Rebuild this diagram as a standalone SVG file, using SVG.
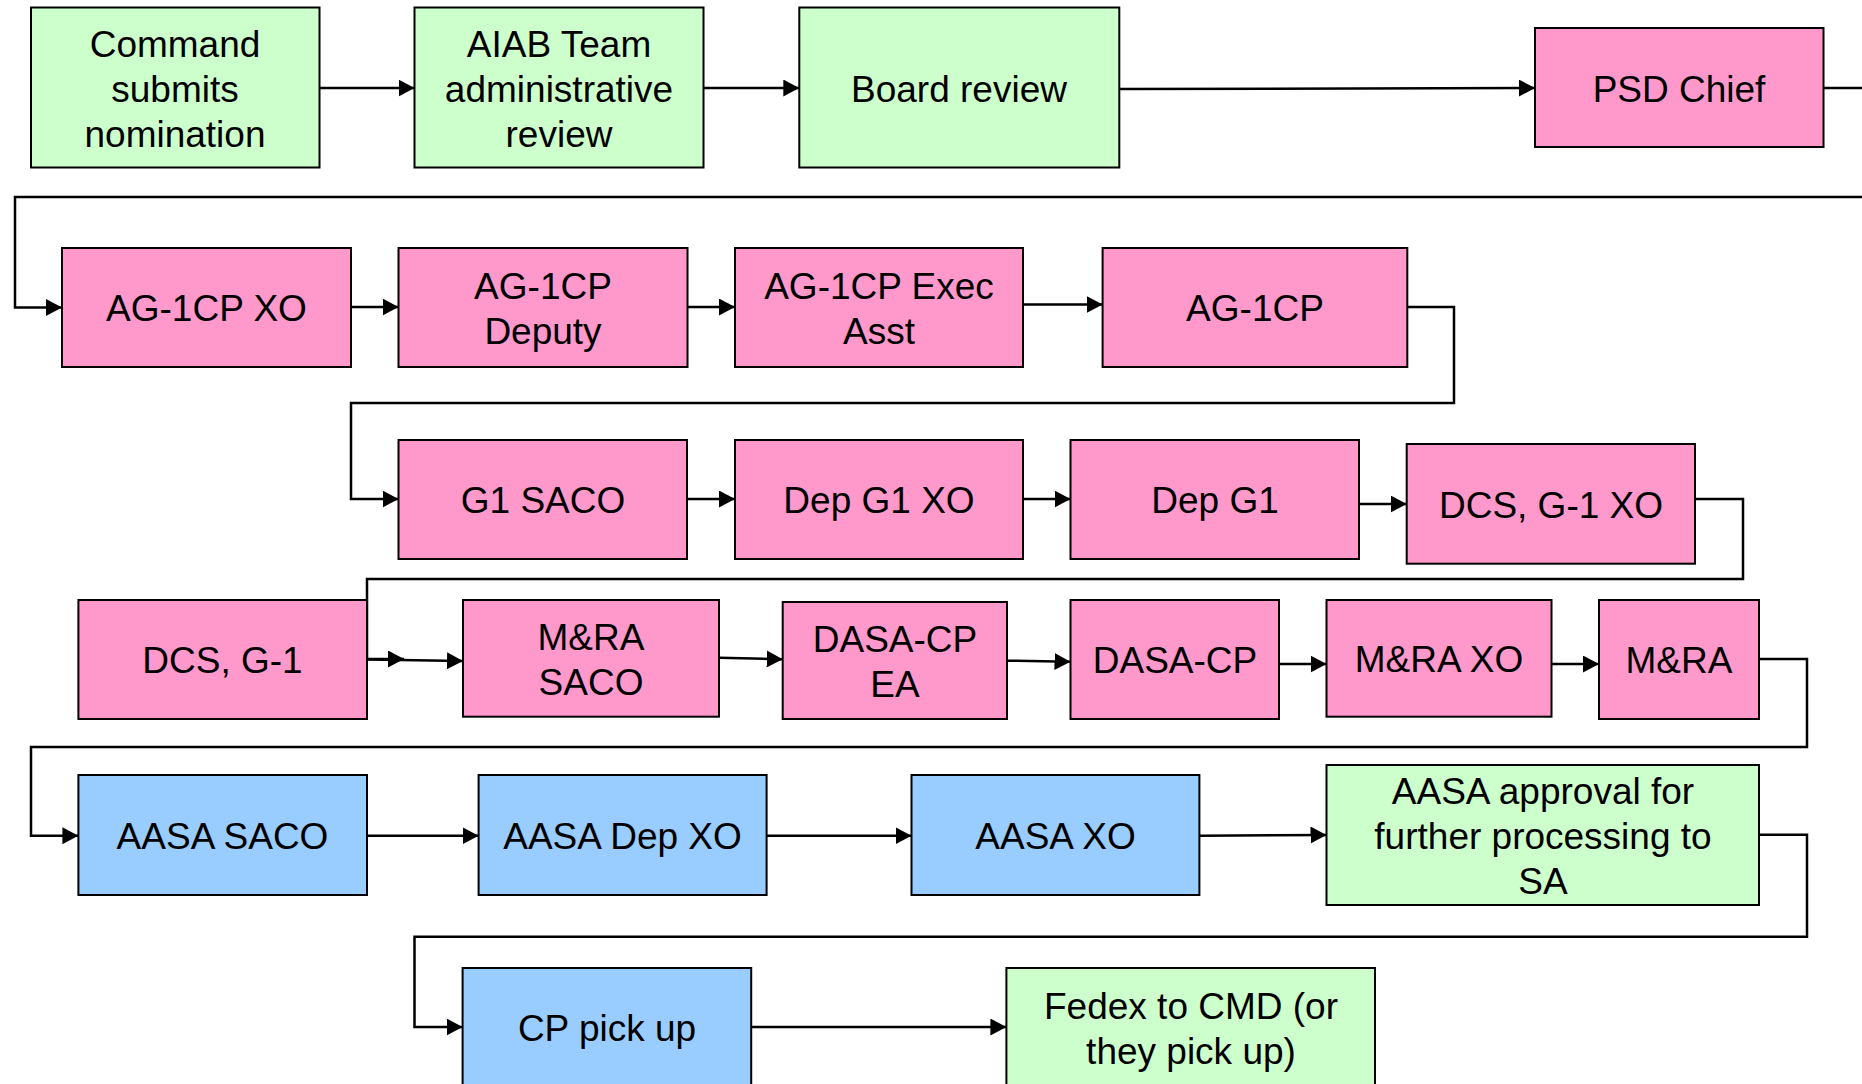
<svg xmlns="http://www.w3.org/2000/svg" width="1862" height="1084" viewBox="0 0 1862 1084">
<style>
.g{fill:#CCFFCC;stroke:#000;stroke-width:2}
.p{fill:#FF99CC;stroke:#000;stroke-width:2}
.b{fill:#99CCFF;stroke:#000;stroke-width:2}
text{font-family:"Liberation Sans",Arial,sans-serif;font-size:37px;fill:#000;text-anchor:middle}
.c path{fill:none;stroke:#000;stroke-width:2.5;marker-end:url(#ah)}
</style>
<defs>
<marker id="ah" markerUnits="userSpaceOnUse" markerWidth="17" markerHeight="17" refX="16" refY="8.5" orient="auto">
<path d="M0,0 L16,8.5 L0,17 Z" fill="#000"/>
</marker>
</defs>
<rect width="1862" height="1084" fill="#fff"/>
<g class="c" id="connectors">
<path d="M319.5,88 H414.5"/>
<path d="M703.7,88 H799.3"/>
<path d="M1119.3,89 L1535,88"/>
<path d="M1823.5,88 H1875 V197 H15 V307.5 H62"/>
<path d="M351,307 H398.5"/>
<path d="M687.6,307 H735"/>
<path d="M1023,304.5 H1102.6"/>
<path d="M1407.3,307 H1454 V403 H351 V499 H398.5"/>
<path d="M687,499 H735"/>
<path d="M1023,499 H1070.5"/>
<path d="M1359,504 H1406.7"/>
<path d="M1695,499 H1743 V579 H367 V659 H404"/>
<path d="M367,659.5 L463,661"/>
<path d="M719,657.7 L782.7,659.3"/>
<path d="M1007,660.7 L1070.5,661.7"/>
<path d="M1279,664 H1326.5"/>
<path d="M1551.5,664 H1599"/>
<path d="M1759,659 H1807 V747 H31 V835.7 H78.4"/>
<path d="M367,835.7 H478.6"/>
<path d="M766.6,835.7 H911.5"/>
<path d="M1199.4,835.7 L1326.5,835"/>
<path d="M1759,834.7 H1807 V936.7 H414.5 V1027 H462.6"/>
<path d="M751.2,1027 H1006.4"/>
</g>
<g id="n1"><rect class="g" x="31" y="7.5" width="288.5" height="160"/><text x="175" y="57">Command</text><text x="175" y="102">submits</text><text x="175" y="147">nomination</text></g>
<g id="n2"><rect class="g" x="414.5" y="7.5" width="289" height="160"/><text x="559" y="57">AIAB Team</text><text x="559" y="102">administrative</text><text x="559" y="147">review</text></g>
<g id="n3"><rect class="g" x="799.3" y="7.5" width="320" height="160"/><text x="959" y="102">Board review</text></g>
<g id="n4"><rect class="p" x="1535" y="28" width="288.5" height="119"/><text x="1679" y="102">PSD Chief</text></g>
<g id="n5"><rect class="p" x="62" y="248" width="289" height="119"/><text x="206.5" y="321">AG-1CP XO</text></g>
<g id="n6"><rect class="p" x="398.5" y="248" width="289" height="119"/><text x="543" y="299">AG-1CP</text><text x="543" y="344">Deputy</text></g>
<g id="n7"><rect class="p" x="735" y="248" width="288" height="119"/><text x="879" y="299">AG-1CP Exec</text><text x="879" y="344">Asst</text></g>
<g id="n8"><rect class="p" x="1102.6" y="248" width="304.7" height="119"/><text x="1255" y="321">AG-1CP</text></g>
<g id="n9"><rect class="p" x="398.5" y="440" width="288.5" height="119"/><text x="543" y="513">G1 SACO</text></g>
<g id="n10"><rect class="p" x="735" y="440" width="288" height="119"/><text x="879" y="513">Dep G1 XO</text></g>
<g id="n11"><rect class="p" x="1070.5" y="440" width="288.5" height="119"/><text x="1215" y="513">Dep G1</text></g>
<g id="n12"><rect class="p" x="1406.7" y="444" width="288.3" height="119.7"/><text x="1551" y="518">DCS, G-1 XO</text></g>
<g id="n13"><rect class="p" x="78.4" y="600" width="288.6" height="119"/><text x="222.5" y="673">DCS, G-1</text></g>
<g id="n14"><rect class="p" x="463" y="600" width="256" height="116.7"/><text x="591" y="650">M&amp;RA</text><text x="591" y="695">SACO</text></g>
<g id="n15"><rect class="p" x="782.7" y="602" width="224.3" height="117"/><text x="895" y="652">DASA-CP</text><text x="895" y="697">EA</text></g>
<g id="n16"><rect class="p" x="1070.5" y="600" width="208.5" height="119"/><text x="1175" y="673">DASA-CP</text></g>
<g id="n17"><rect class="p" x="1326.5" y="600" width="225" height="116.7"/><text x="1439" y="672">M&amp;RA XO</text></g>
<g id="n18"><rect class="p" x="1599" y="600" width="160" height="119"/><text x="1679" y="673">M&amp;RA</text></g>
<g id="n19"><rect class="b" x="78.4" y="775" width="288.6" height="120"/><text x="222.5" y="849">AASA SACO</text></g>
<g id="n20"><rect class="b" x="478.6" y="775" width="288" height="120"/><text x="622.5" y="849">AASA Dep XO</text></g>
<g id="n21"><rect class="b" x="911.5" y="775" width="287.9" height="120"/><text x="1055.5" y="849">AASA XO</text></g>
<g id="n22"><rect class="g" x="1326.5" y="765" width="432.5" height="140"/><text x="1543" y="804">AASA approval for</text><text x="1543" y="849">further processing to</text><text x="1543" y="894">SA</text></g>
<g id="n23"><rect class="b" x="462.6" y="968" width="288.6" height="119"/><text x="607" y="1041">CP pick up</text></g>
<g id="n24"><rect class="g" x="1006.4" y="968" width="368.6" height="119"/><text x="1191" y="1019">Fedex to CMD (or</text><text x="1191" y="1064">they pick up)</text></g>
</svg>
